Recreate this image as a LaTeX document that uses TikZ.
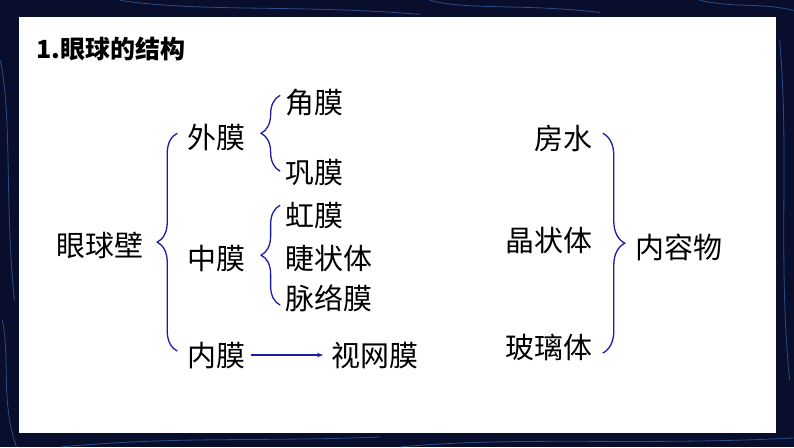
\documentclass[tikz,border=0pt]{standalone}
\usepackage{fontspec}
\usetikzlibrary{arrows.meta,decorations.pathreplacing}
\newfontfamily\cjk{Noto Sans CJK SC}
\definecolor{bracecol}{RGB}{28,28,165}
\definecolor{bgnavy}{RGB}{9,14,44}
\definecolor{glow}{RGB}{70,130,210}

\begin{document}
\begin{tikzpicture}[x=1pt,y=1pt,
  lbl/.style={anchor=west,inner sep=0pt,font=\cjk\fontsize{29}{29}\selectfont},
  brc/.style={draw=bracecol,line width=1.3pt,decorate,decoration={brace,amplitude=#1}},
  netline/.style={glow,line width=0.8pt,opacity=0.55}]
% background
\fill[bgnavy] (0,0) rectangle (794,-447);
\draw[netline] (0,-60) .. controls (12,-120) and (4,-200) .. (14,-300);
\draw[netline] (2,-320) .. controls (10,-360) and (0,-400) .. (16,-447);
\draw[netline] (120,0) .. controls (200,-12) and (300,-4) .. (420,-14);
\draw[netline] (430,0) .. controls (470,-10) and (520,-3) .. (600,-12);
\draw[netline] (60,-447) .. controls (180,-436) and (260,-442) .. (380,-437);
\draw[netline] (400,-447) .. controls (520,-436) and (640,-446) .. (794,-438);
\draw[netline] (780,-40) .. controls (790,-150) and (778,-260) .. (790,-380);
\draw[netline] (700,0) .. controls (740,-8) and (760,-2) .. (794,-10);
% white panel
\fill[white] (19,-17) rectangle (776,-433);
% title
\node[anchor=west,inner sep=0pt,font=\cjk\bfseries\fontsize{25}{25}\selectfont] (title) at (36,-49) {1.眼球的结构};
% left part
\node[lbl] (yqb) at (56,-245) {眼球壁};
\node[lbl] (wm) at (187,-137) {外膜};
\node[lbl] (zm) at (187,-258) {中膜};
\node[lbl] (nm) at (187,-355) {内膜};
\node[lbl] (jm) at (285,-102) {角膜};
\node[lbl] (gm) at (285,-172) {巩膜};
\node[lbl] (hm) at (285,-215) {虹膜};
\node[lbl] (jzt) at (285,-258) {睫状体};
\node[lbl] (mlm) at (285,-298) {脉络膜};
\node[lbl] (swm) at (331,-355) {视网膜};
% right part
\node[lbl] (fs) at (534,-138) {房水};
\node[lbl] (jzt2) at (505,-240) {晶状体};
\node[lbl] (blt) at (505,-347) {玻璃体};
\node[lbl] (nrw) at (636,-247) {内容物};
% braces
\coordinate (b1a) at (177,-351);
\coordinate (b1b) at (177,-133);
\coordinate (b2a) at (280,-171);
\coordinate (b2b) at (280,-95);
\coordinate (b3a) at (280,-305);
\coordinate (b3b) at (280,-205);
\coordinate (b4a) at (603,-133);
\coordinate (b4b) at (603,-353);
\draw[brc=20] (b1a) -- (b1b);
\draw[brc=19] (b2a) -- (b2b);
\draw[brc=19] (b3a) -- (b3b);
\draw[brc=22] (b4a) -- (b4b);
\draw[bracecol,line width=1.2pt,-{Stealth[length=6pt,width=4.5pt]},shorten <=5pt,shorten >=8pt] (nm.east) -- (swm.west);
\end{tikzpicture}
\end{document}
